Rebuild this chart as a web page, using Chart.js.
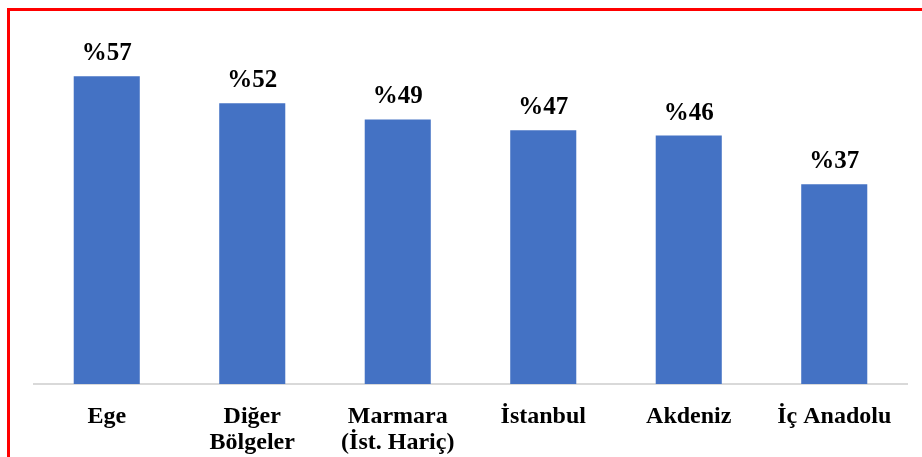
<!DOCTYPE html>
<html>
<head>
<meta charset="utf-8">
<script src="https://cdn.jsdelivr.net/npm/chart.js@4"></script>
<style>
    html, body { margin: 0; padding: 0; background: #fff; overflow: hidden; }
    #wrap { position: relative; width: 922px; height: 457px; overflow: hidden; }
    #frame {
        position: absolute; left: 7px; top: 8px; width: 960px; height: 500px;
        border-left: 3px solid #ff0000; border-top: 3px solid #ff0000;
    }
    #chart { position: absolute; left: 0; top: 0; }
</style>
</head>
<body>
<div id="wrap">
    <div id="frame"></div>
    <canvas id="chart" width="922" height="468"></canvas>
</div>
<script>
// Region shares (%)
const regions = [
    'Ege',
    ['Diğer', 'Bölgeler'],
    ['Marmara', '(İst. Hariç)'],
    'İstanbul',
    'Akdeniz',
    'İç Anadolu'
];
const shares = [57, 52, 49, 47, 46, 37];

// Draw "%NN" above every bar
const valueLabels = {
    id: 'valueLabels',
    afterDatasetsDraw(chart) {
        const ctx = chart.ctx;
        const meta = chart.getDatasetMeta(0);
        ctx.save();
        ctx.font = 'bold 25px "Liberation Serif"';
        ctx.fillStyle = '#000';
        ctx.textAlign = 'center';
        ctx.textBaseline = 'alphabetic';
        meta.data.forEach((bar, i) => {
            ctx.fillText('%' + shares[i], bar.x, bar.y - 16);
        });
        ctx.restore();
    }
};

new Chart(document.getElementById('chart'), {
    type: 'bar',
    data: {
        labels: regions,
        datasets: [{
            data: shares,
            backgroundColor: '#4472C4',
            categoryPercentage: 1,
            barPercentage: 0.454
        }]
    },
    options: {
        responsive: false,
        animation: false,
        layout: { padding: { top: 60, left: 34, right: 15, bottom: 0 } },
        plugins: {
            legend: { display: false },
            tooltip: { enabled: false }
        },
        scales: {
            x: {
                grid: { display: false },
                border: { display: true, color: '#d9d9d9', width: 2 },
                ticks: {
                    color: '#000',
                    padding: 12,
                    maxRotation: 0,
                    autoSkip: false,
                    font: { family: 'Liberation Serif', size: 24, weight: 'bold', lineHeight: '26px' }
                }
            },
            y: {
                display: false,
                min: 0,
                max: 60
            }
        }
    },
    plugins: [valueLabels]
});
</script>
</body>
</html>
